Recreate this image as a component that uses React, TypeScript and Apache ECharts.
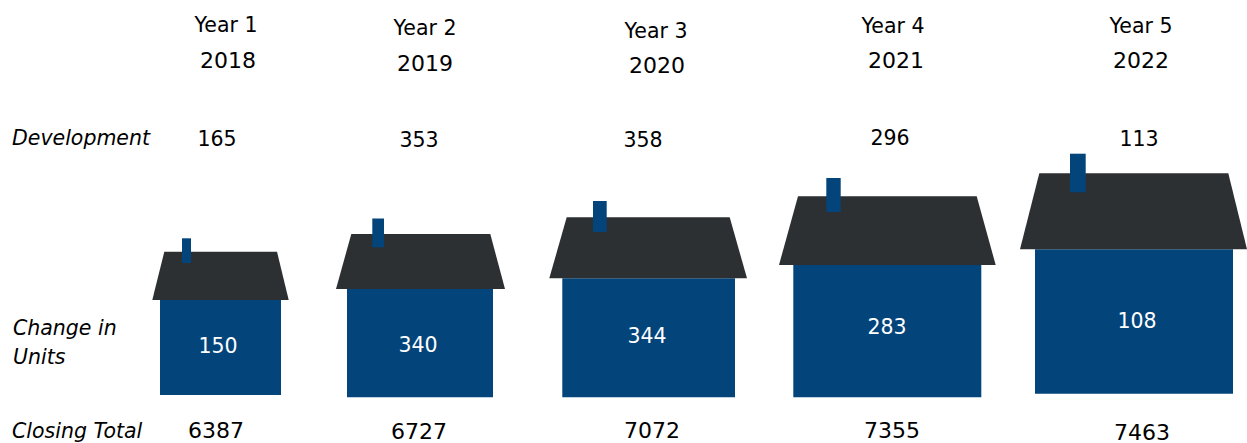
import React, { useEffect, useRef } from "react";
import * as echarts from "echarts";

const WIDTH = 1247;
const HEIGHT = 443;

// Table content
const yearLabels = ["Year 1", "Year 2", "Year 3", "Year 4", "Year 5"];
const calendarYears = ["2018", "2019", "2020", "2021", "2022"];
const development = [165, 353, 358, 296, 113];
const changeInUnits = [150, 340, 344, 283, 108];
const closingTotal = [6387, 6727, 7072, 7355, 7463];

// House outlines, in the units of the two hidden axes
const bodyLeft = [160, 347, 562.3, 793.3, 1035];
const bodyRight = [281, 493, 735, 981.3, 1233];
const bodyTop = [300, 289, 278.3, 265, 249.3];
const bodyBottom = [395, 397.3, 397.3, 397.3, 393.7];
const eaveLeft = [152.3, 336, 549.3, 779, 1020];
const eaveRight = [288.7, 505, 747, 995.7, 1247];
const ridgeLeft = [164.3, 351.3, 566.7, 798, 1039.3];
const ridgeRight = [277, 490.3, 729.7, 976.7, 1228.3];
const ridgeY = [251.7, 234, 217.3, 196.3, 173.3];
const chimneyLeft = [182, 372.3, 593, 826.3, 1070];
const chimneyRight = [191, 384, 606.7, 840.7, 1085.7];
const chimneyTop = [238.3, 218.5, 201, 178, 153.7];
const chimneyBottom = [263, 247.3, 232, 212, 192.3];

// Anchors of the column texts
const yearX = [226, 425, 656, 893, 1141];
const yearY = [25, 28, 31, 26, 26];
const calendarX = [228, 425, 657, 896, 1141];
const calendarY = [60, 63, 65, 60, 60];
const developmentX = [217, 419, 643, 890, 1139];
const developmentY = [139, 140, 140, 138, 139];
const changeX = [218, 418, 647, 887, 1137];
const changeY = [346, 345, 336, 327, 321];
const closingX = [216, 419, 652, 892, 1142];
const closingY = [430, 431, 430, 430, 432];

// Row headings
const rowHeadings = ["Development", "Change in", "Units", "Closing Total"];
const rowHeadingX = [12, 13, 13, 12];
const rowHeadingY = [138, 328, 357, 431];

const BLUE = "#03447b";
const ROOF = "#2d3033";
const FONT = "'DejaVu Sans', sans-serif";

const houseIndexes = yearLabels.map((_, i) => i);

function renderHouse(params: any, api: any) {
  const i = params.dataIndex;
  const pt = (x: number, y: number) => api.coord([x, y]);
  const block = (l: number, r: number, t: number, b: number, fill: string) => {
    const a = pt(l, t);
    const c = pt(r, b);
    return {
      type: "rect",
      shape: { x: a[0], y: a[1], width: c[0] - a[0], height: c[1] - a[1] },
      style: { fill },
    };
  };
  return {
    type: "group",
    children: [
      block(bodyLeft[i], bodyRight[i], bodyTop[i], bodyBottom[i], BLUE),
      {
        type: "polygon",
        shape: {
          points: [
            pt(eaveLeft[i], bodyTop[i]),
            pt(ridgeLeft[i], ridgeY[i]),
            pt(ridgeRight[i], ridgeY[i]),
            pt(eaveRight[i], bodyTop[i]),
          ],
        },
        style: { fill: ROOF },
      },
      block(chimneyLeft[i], chimneyRight[i], chimneyTop[i], chimneyBottom[i], BLUE),
    ],
  };
}

function textSeries(
  name: string,
  texts: (string | number)[],
  xs: number[],
  ys: number[],
  style: { fill?: string; align?: string; italic?: boolean; size?: number }
) {
  return {
    type: "custom",
    name,
    coordinateSystem: "cartesian2d",
    clip: false,
    silent: true,
    z: 5,
    data: texts.map((t, i) => [xs[i], ys[i], t]),
    renderItem: (_: any, api: any) => {
      const p = api.coord([api.value(0), api.value(1)]);
      return {
        type: "text",
        x: p[0],
        y: p[1],
        style: {
          text: String(api.value(2)),
          fill: style.fill ?? "#000000",
          font: `${style.italic ? "italic " : ""}${style.size ?? 21}px ${FONT}`,
          align: style.align ?? "center",
          verticalAlign: "middle",
        },
      };
    },
  };
}

export default function App() {
  const ref = useRef<HTMLDivElement>(null);

  useEffect(() => {
    document.body.style.margin = "0";
    document.body.style.background = "#ffffff";
    const chart = echarts.init(ref.current!, null, { renderer: "svg" });
    chart.setOption({
      animation: false,
      backgroundColor: "#ffffff",
      grid: { left: 0, right: 0, top: 0, bottom: 0 },
      xAxis: { type: "value", min: 0, max: WIDTH, show: false },
      yAxis: { type: "value", min: 0, max: HEIGHT, inverse: true, show: false },
      series: [
        {
          type: "custom",
          name: "Houses",
          coordinateSystem: "cartesian2d",
          clip: false,
          silent: true,
          data: houseIndexes,
          renderItem: renderHouse,
        },
        textSeries("Year", yearLabels, yearX, yearY, { size: 20.5 }),
        textSeries("Calendar year", calendarYears, calendarX, calendarY, { size: 22 }),
        textSeries("Development", development, developmentX, developmentY, { size: 20.5 }),
        textSeries("Change in Units", changeInUnits, changeX, changeY, { fill: "#ffffff", size: 20.5 }),
        textSeries("Closing Total", closingTotal, closingX, closingY, { size: 22 }),
        textSeries("Row headings", rowHeadings, rowHeadingX, rowHeadingY, {
          align: "left",
          italic: true,
          size: 20.5,
        }),
      ],
    });
    return () => chart.dispose();
  }, []);

  return <div ref={ref} style={{ width: WIDTH, height: HEIGHT }} />;
}
